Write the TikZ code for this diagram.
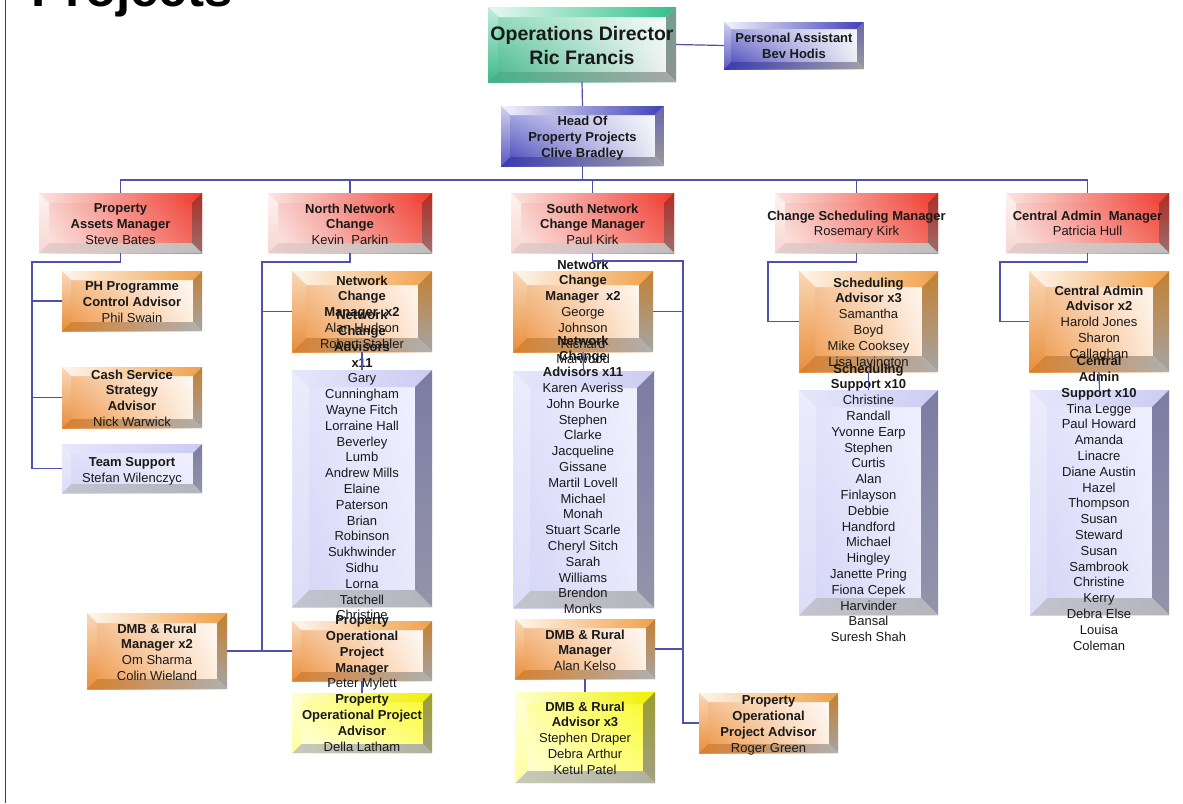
\documentclass[tikz,border=0pt]{standalone}
\usepackage{fontspec}
\setmainfont{Liberation Sans}
\usetikzlibrary{calc,shadings}
% palettes: UL UR LL LR face corners; T1/T2 top bevel; R1/R2 right bevel; B1/B2 bottom bevel; L1/L2 left bevel
\definecolor{redUL}{HTML}{F8D2CE}\definecolor{redUR}{HTML}{F03A2E}\definecolor{redLL}{HTML}{FCEEEC}\definecolor{redLR}{HTML}{F26A5E}
\definecolor{redT1}{HTML}{FBE4E0}\definecolor{redT2}{HTML}{F03C30}\definecolor{redR1}{HTML}{B02C24}\definecolor{redR2}{HTML}{9A7070}
\definecolor{redB1}{HTML}{E8CCCA}\definecolor{redB2}{HTML}{BEBEBE}\definecolor{redL1}{HTML}{FFF2F0}\definecolor{redL2}{HTML}{F6D6D2}
\definecolor{orgUL}{HTML}{F6C49A}\definecolor{orgUR}{HTML}{FFFFFF}\definecolor{orgLL}{HTML}{EC8E38}\definecolor{orgLR}{HTML}{FFF4EA}
\definecolor{orgT1}{HTML}{FFF6EE}\definecolor{orgT2}{HTML}{F0A048}\definecolor{orgR1}{HTML}{C48030}\definecolor{orgR2}{HTML}{A4A4A4}
\definecolor{orgB1}{HTML}{D8802E}\definecolor{orgB2}{HTML}{B0B0B0}\definecolor{orgL1}{HTML}{FAD8B8}\definecolor{orgL2}{HTML}{E88E3C}
\definecolor{lavUL}{HTML}{E2E2FC}\definecolor{lavUR}{HTML}{F2F2FF}\definecolor{lavLL}{HTML}{D2D2F6}\definecolor{lavLR}{HTML}{ECECFC}
\definecolor{lavT1}{HTML}{E6E6FC}\definecolor{lavT2}{HTML}{CCCCF4}\definecolor{lavR1}{HTML}{7C7CA4}\definecolor{lavR2}{HTML}{9494AC}
\definecolor{lavB1}{HTML}{C4C4D0}\definecolor{lavB2}{HTML}{B4B4BC}\definecolor{lavL1}{HTML}{ECECFC}\definecolor{lavL2}{HTML}{DCDCF8}
\definecolor{bluUL}{HTML}{B0B0E8}\definecolor{bluUR}{HTML}{FFFFFF}\definecolor{bluLL}{HTML}{3C3CB4}\definecolor{bluLR}{HTML}{F2F2F8}
\definecolor{bluT1}{HTML}{F4F4FC}\definecolor{bluT2}{HTML}{4040B8}\definecolor{bluR1}{HTML}{6868A8}\definecolor{bluR2}{HTML}{9A9A9A}
\definecolor{bluB1}{HTML}{3A3AB0}\definecolor{bluB2}{HTML}{A0A0A8}\definecolor{bluL1}{HTML}{D0D0F0}\definecolor{bluL2}{HTML}{5C5CC0}
\definecolor{grnUL}{HTML}{9ADEC4}\definecolor{grnUR}{HTML}{FFFFFF}\definecolor{grnLL}{HTML}{3CB488}\definecolor{grnLR}{HTML}{F2F2F2}
\definecolor{grnT1}{HTML}{E8F8F0}\definecolor{grnT2}{HTML}{30C08C}\definecolor{grnR1}{HTML}{70A090}\definecolor{grnR2}{HTML}{909090}
\definecolor{grnB1}{HTML}{48B088}\definecolor{grnB2}{HTML}{A8A8A8}\definecolor{grnL1}{HTML}{C0EEDC}\definecolor{grnL2}{HTML}{40B88C}
\definecolor{yelUL}{HTML}{FFFFA8}\definecolor{yelUR}{HTML}{F8F820}\definecolor{yelLL}{HTML}{FFFFE6}\definecolor{yelLR}{HTML}{FFFF80}
\definecolor{yelT1}{HTML}{FFFFD0}\definecolor{yelT2}{HTML}{F0F000}\definecolor{yelR1}{HTML}{9C9C30}\definecolor{yelR2}{HTML}{A0A084}
\definecolor{yelB1}{HTML}{CACABA}\definecolor{yelB2}{HTML}{B0B0A0}\definecolor{yelL1}{HTML}{FFFFD8}\definecolor{yelL2}{HTML}{FFFFA0}
\definecolor{lineblue}{HTML}{5050B0}
% #1 name, #2 x1, #3 y1, #4 x2, #5 y2, #6 bevel, #7 palette
\newcommand\bbox[7]{%
 \node[inner sep=0pt, outer sep=0pt, anchor=north west, minimum width={(#4)-(#2)}, minimum height={(#5)-(#3)},
   upper left=#7UL, upper right=#7UR, lower left=#7LL, lower right=#7LR] (#1) at (#2,#3) {};
 \shade[left color=#7T1, right color=#7T2] (#2,#3) -- (#4,#3) -- ({#4-#6},{#3+#6}) -- ({#2+#6},{#3+#6}) -- cycle;
 \shade[top color=#7R1, bottom color=#7R2] (#4,#3) -- (#4,#5) -- ({#4-#6},{#5-#6}) -- ({#4-#6},{#3+#6}) -- cycle;
 \shade[left color=#7B1, right color=#7B2] (#2,#5) -- (#4,#5) -- ({#4-#6},{#5-#6}) -- ({#2+#6},{#5-#6}) -- cycle;
 \shade[top color=#7L1, bottom color=#7L2] (#2,#3) -- ({#2+#6},{#3+#6}) -- ({#2+#6},{#5-#6}) -- (#2,#5) -- cycle;
}
\tikzset{
 conn/.style={draw=lineblue, line width=1.2pt},
 txt/.style={align=center, anchor=north, inner sep=0pt, text=black!90,
   font=\fontsize{13}{15.8}\selectfont, execute at begin node=\strut, execute at end node=\strut},
}
\begin{document}
\begin{tikzpicture}[x=1pt,y=-1pt]
\useasboundingbox (0,0) rectangle (1183,803);
\fill[white] (0,0) rectangle (1183,803);
\node[anchor=base west, inner sep=0pt, font=\fontsize{51}{60}\selectfont\bfseries] (title) at (31,6.5) {Projects};
\draw[line width=1.5pt, draw=black!75] (5.5,0) -- (5.5,803);

% top
\bbox{ops}{488}{7}{676}{82}{10}{grn}
\node[txt, font=\fontsize{19.5}{24}\selectfont] (opsT) at (582,26.2) {\textbf{Operations Director}\\\textbf{Ric Francis}};
\bbox{pa}{724}{22}{864}{69}{7}{blu}
\node[txt, font=\fontsize{13}{16}\selectfont] (paT) at (794,32.5) {\textbf{Personal Assistant}\\\textbf{Bev Hodis}};
\bbox{head}{501}{106}{664}{166}{9}{blu}
\node[txt, font=\fontsize{13}{16}\selectfont] (headT) at (582.5,115.5) {\textbf{Head Of}\\\textbf{Property Projects}\\\textbf{Clive Bradley}};

% level 2
\bbox{pam}{39}{193}{202}{253}{10}{red}
\node[txt] (pamT) at (120.5,203.5) {\textbf{Property}\\\textbf{Assets Manager}\\Steve Bates};
\bbox{nnc}{268}{193}{432}{253}{10}{red}
\node[txt] (nncT) at (350,203.5) {\textbf{North Network}\\\textbf{Change}\\Kevin~ Parkin};
\bbox{snc}{511}{193}{674}{253}{10}{red}
\node[txt] (sncT) at (592.5,203.5) {\textbf{South Network}\\\textbf{Change Manager}\\Paul Kirk};
\bbox{csm}{775}{193}{938}{253}{10}{red}
\node[txt] (csmT) at (856.5,210.5) {\textbf{Change Scheduling Manager}\\Rosemary Kirk};
\bbox{cam}{1006}{193}{1169}{253}{10}{red}
\node[txt] (camT) at (1087.5,210.5) {\textbf{Central Admin~ Manager}\\Patricia Hull};

% column 1
\bbox{ph}{62}{271}{202}{331}{9}{org}
\node[txt] (phT) at (132,281.5) {\textbf{PH Programme}\\\textbf{Control Advisor}\\Phil Swain};
\bbox{cash}{62}{367}{202}{428}{9}{org}
\node[txt] (cashT) at (132,369.5) {\textbf{Cash Service}\\\textbf{Strategy}\\\textbf{Advisor}\\Nick Warwick};
\bbox{team}{62}{444}{202}{493}{9}{lav}
\node[txt] (teamT) at (132,457.5) {\textbf{Team Support}\\Stefan Wilenczyc};

% column 2
\bbox{ncm}{292}{271}{432}{352}{14}{org}
\node[txt] (ncmT) at (362,275.5) {\textbf{Network}\\\textbf{Change}\\\textbf{Manager~ x2}\\Alan Hudson\\Robert Stabler};
\bbox{nca}{292}{370}{432}{607}{17}{lav}
\node[txt] (ncaT) at (362,310) {\textbf{Network}\\\textbf{Change}\\\textbf{Advisors}\\\textbf{x11}\\Gary\\Cunningham\\Wayne Fitch\\Lorraine Hall\\Beverley\\Lumb\\Andrew Mills\\Elaine\\Paterson\\Brian\\Robinson\\Sukhwinder\\Sidhu\\Lorna\\Tatchell\\Christine};
\bbox{dmb2}{87}{613}{227}{689}{10}{org}
\node[txt] (dmb2T) at (157,623.5) {\textbf{DMB \& Rural}\\\textbf{Manager x2}\\Om Sharma\\Colin Wieland};
\bbox{popm}{292}{621}{432}{681}{9}{org}
\node[txt] (popmT) at (362,615.5) {\textbf{Property}\\\textbf{Operational}\\\textbf{Project}\\\textbf{Manager}\\Peter Mylett};
\bbox{popa}{292}{693}{432}{753}{9}{yel}
\node[txt] (popaT) at (362,694.5) {\textbf{Property}\\\textbf{Operational Project}\\\textbf{Advisor}\\Della Latham};

% column 3
\bbox{ncm2}{513}{271}{653}{352}{14}{org}
\node[txt] (ncm2T) at (583,259.5) {\textbf{Network}\\\textbf{Change}\\\textbf{Manager~ x2}\\George\\Johnson\\Richard\\Marwood};
\bbox{nca2}{513}{371}{654}{608}{17}{lav}
\node[txt] (nca2T) at (583,335.5) {\textbf{Network}\\\textbf{Change}\\\textbf{Advisors x11}\\Karen Averiss\\John Bourke\\Stephen\\Clarke\\Jacqueline\\Gissane\\Martil Lovell\\Michael\\Monah\\Stuart Scarle\\Cheryl Sitch\\Sarah\\Williams\\Brendon\\Monks};
\bbox{dmbm}{515}{619}{655}{679}{9}{org}
\node[txt] (dmbmT) at (585,629.5) {\textbf{DMB \& Rural}\\\textbf{Manager}\\Alan Kelso};
\bbox{dmba}{515}{692}{655}{783}{12}{yel}
\node[txt] (dmbaT) at (585,701.5) {\textbf{DMB \& Rural}\\\textbf{Advisor x3}\\Stephen Draper\\Debra Arthur\\Ketul Patel};
\bbox{popa2}{699}{693}{838}{753}{9}{org}
\node[txt] (popa2T) at (768.5,695.5) {\textbf{Property}\\\textbf{Operational}\\\textbf{Project Advisor}\\Roger Green};

% column 4
\bbox{sa}{799}{271}{938}{372}{16}{org}
\node[txt] (saT) at (868.5,277.5) {\textbf{Scheduling}\\\textbf{Advisor x3}\\Samantha\\Boyd\\Mike Cooksey\\Lisa Iavington};
\bbox{ss}{799}{390}{938}{615}{17}{lav}
\node[txt] (ssT) at (868.5,363.5) {\textbf{Scheduling}\\\textbf{Support x10}\\Christine\\Randall\\Yvonne Earp\\Stephen\\Curtis\\Alan\\Finlayson\\Debbie\\Handford\\Michael\\Hingley\\Janette Pring\\Fiona Cepek\\Harvinder\\Bansal\\Suresh Shah};

% column 5
\bbox{caa}{1029}{271}{1169}{372}{16}{org}
\node[txt] (caaT) at (1099,285.5) {\textbf{Central Admin}\\\textbf{Advisor x2}\\Harold Jones\\Sharon\\Callaghan};
\bbox{cas}{1030}{390}{1169}{615}{17}{lav}
\node[txt] (casT) at (1099,356) {\textbf{Central}\\\textbf{Admin}\\\textbf{Support x10}\\Tina Legge\\Paul Howard\\Amanda\\Linacre\\Diane Austin\\Hazel\\Thompson\\Susan\\Steward\\Susan\\Sambrook\\Christine\\Kerry\\Debra Else\\Louisa\\Coleman};

% connectors
\draw[conn] (ops.south) -- (head.north);
\draw[conn] (ops.east) -- (pa.west);
\draw[conn] (head.south) -- ++(0,14) coordinate (bus);
\draw[conn] (pam.north) |- (bus) -| (cam.north);
\draw[conn] (nnc.north) -- (nnc.north |- bus);
\draw[conn] (snc.north) -- (snc.north |- bus);
\draw[conn] (csm.north) -- (csm.north |- bus);

\coordinate (c1) at ([xshift=-30pt]ph.west);
\draw[conn] (pam.south) -- ++(0,9) -| (c1) -- (ph.west);
\draw[conn] (c1) |- (cash.west);
\draw[conn] (c1) |- (team.west);

\coordinate (c2) at ([xshift=-30pt]ncm.west);
\draw[conn] (nnc.south) -- ++(0,9) -| (c2) -- (ncm.west);
\draw[conn] (c2) |- (popm.west);
\draw[conn] (dmb2.east) -- (popm.west);
\draw[conn] (ncm.south) -- (nca.north);
\draw[conn] (popm.south) -- (popa.north);

\coordinate (c3) at ([xshift=30pt]ncm2.east);
\draw[conn] (snc.south) -- ++(0,8) -| (c3) |- (popa2.west);
\draw[conn] (c3) -- (ncm2.east);
\draw[conn] (dmbm.east) -- (dmbm.east -| c3);
\draw[conn] (ncm2.south) -- (nca2.north);
\draw[conn] (dmbm.south) -- (dmba.north);

\coordinate (c4) at ([xshift=-31pt]sa.west);
\draw[conn] (csm.south) -- ++(0,9) -| (c4) -- (sa.west);
\draw[conn] (sa.south) -- (ss.north);

\coordinate (c5) at ([xshift=-29pt]caa.west);
\draw[conn] (cam.south) -- ++(0,9) -| (c5) -- (caa.west);
\draw[conn] (caa.south) -- (cas.north);
\end{tikzpicture}
\end{document}
